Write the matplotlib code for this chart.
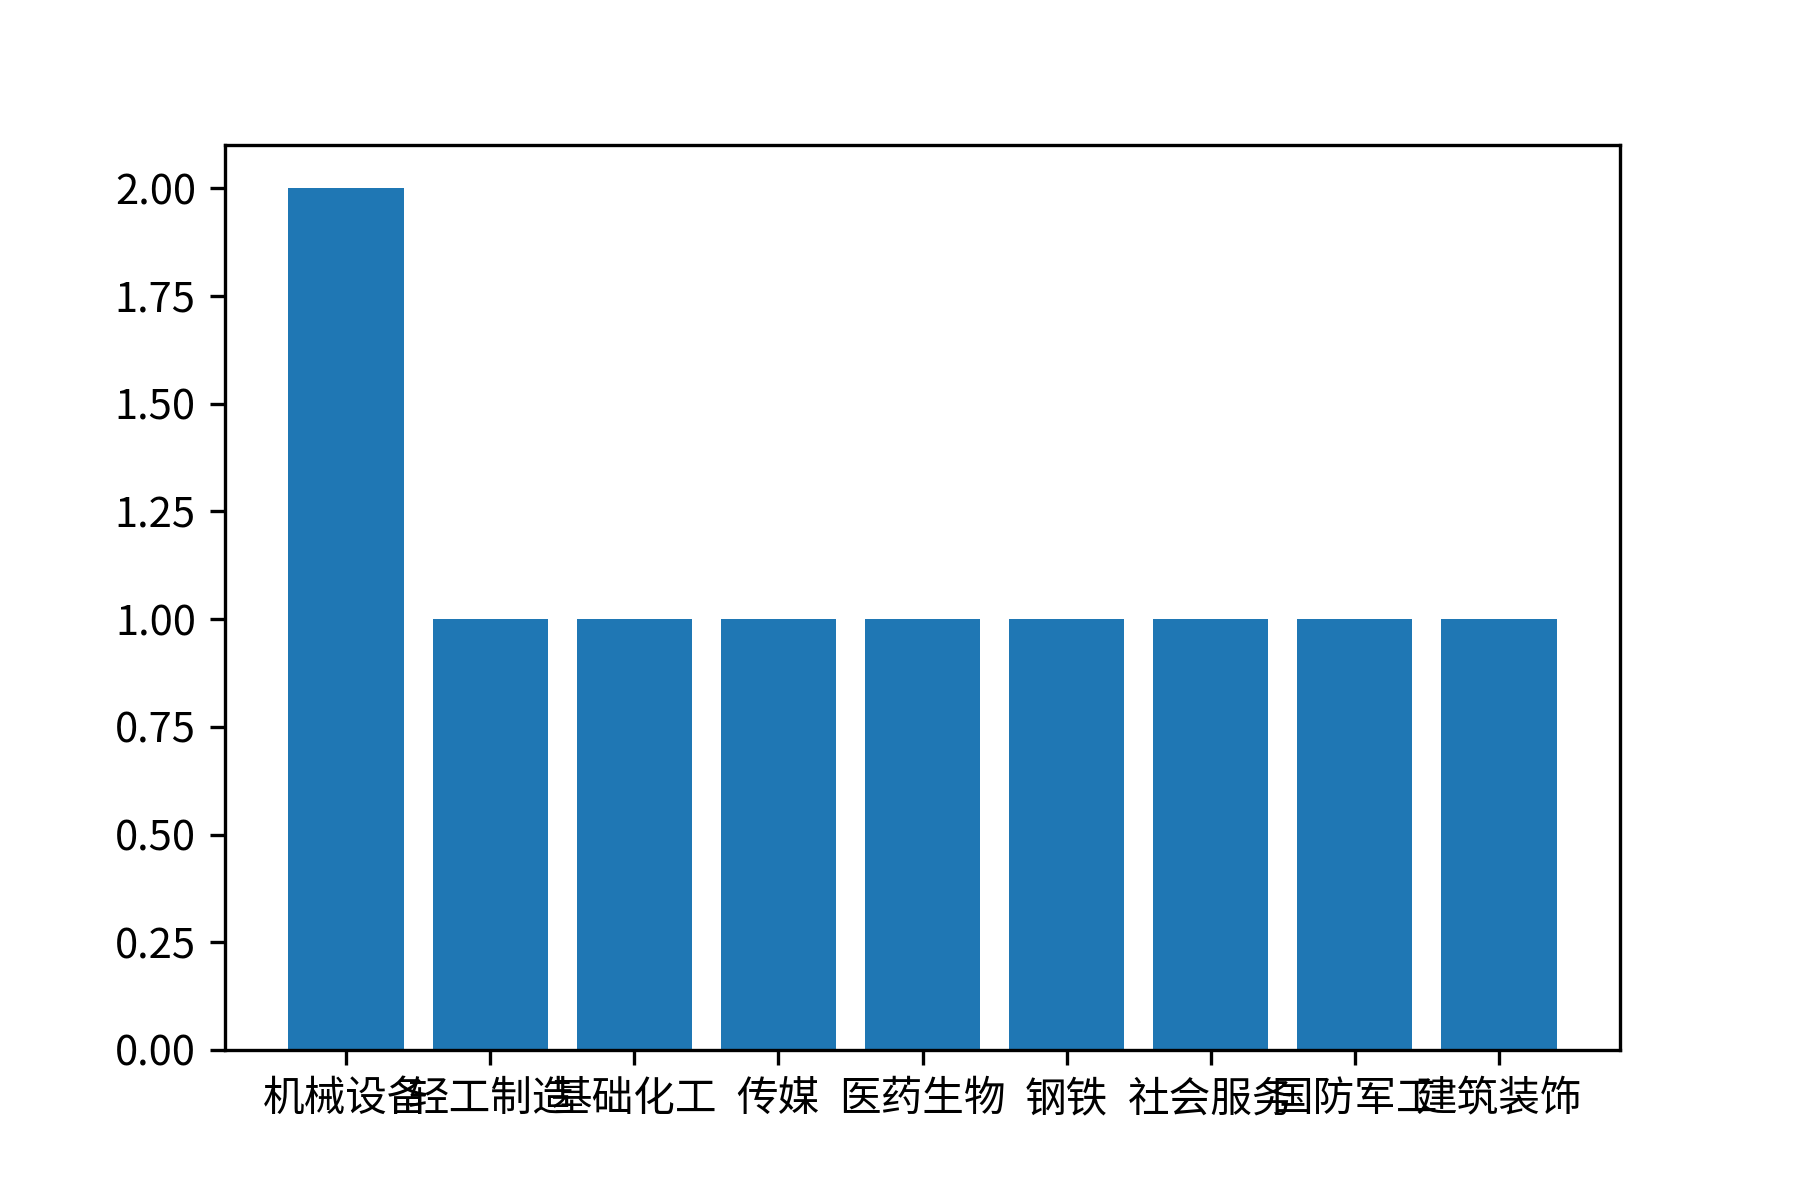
import matplotlib
matplotlib.use("Agg")
import matplotlib.pyplot as plt

plt.rcParams['font.family'] = ['Noto Sans CJK SC', 'DejaVu Sans']
plt.rcParams['axes.unicode_minus'] = False

industries = ['机械设备', '轻工制造', '基础化工', '传媒', '医药生物',
              '钢铁', '社会服务', '国防军工', '建筑装饰']
counts = [2, 1, 1, 1, 1, 1, 1, 1, 1]

fig, ax = plt.subplots(figsize=(6, 4))
fig.subplots_adjust(left=0.125, right=0.9, bottom=0.125, top=0.879)
ax.bar(industries, counts, color='#1f77b4')
ax.set_yticks([0, 0.25, 0.5, 0.75, 1.0, 1.25, 1.5, 1.75, 2.0])
ax.set_yticklabels(['%.2f' % v for v in ax.get_yticks()])

fig.savefig('out.png', dpi=300)
